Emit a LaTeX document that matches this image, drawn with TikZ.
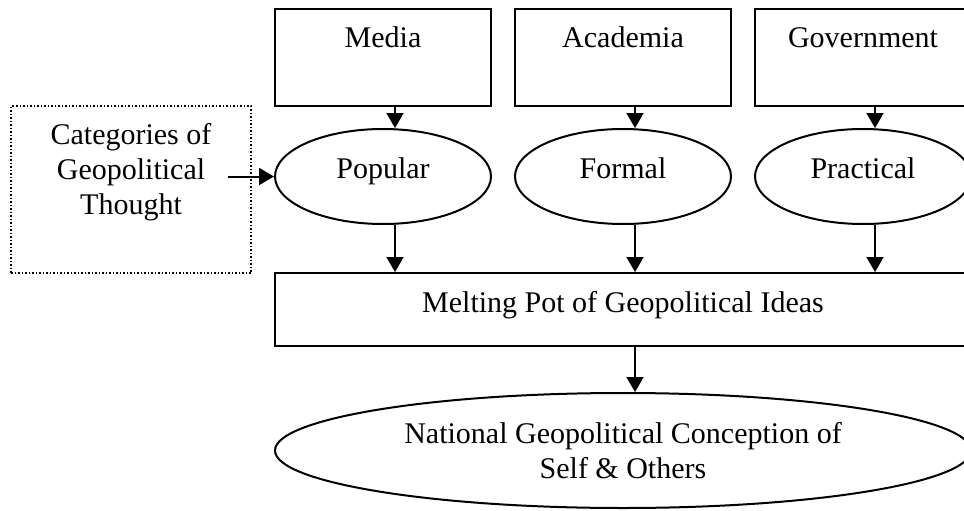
\documentclass[tikz,border=0pt]{standalone}
\usepackage{fontspec}
\setmainfont{Liberation Serif}
\usetikzlibrary{arrows.meta,shapes.geometric}
\tikzset{
  every node/.style={font=\fontsize{30}{35}\selectfont},
  sourcebox/.style={draw, line width=2pt, minimum width=216pt, inner sep=8pt, text height=31pt, text depth=50pt},
  kindball/.style={draw, ellipse, line width=2pt, minimum width=216pt, minimum height=95pt, inner sep=0pt, text height=12pt, text depth=8pt},
  arr/.style={line width=2pt, -{Triangle[length=15pt,width=17pt]}}
}
\begin{document}
\begin{tikzpicture}[x=1pt,y=-1pt]
  \useasboundingbox (0,0) rectangle (964,511);
  % sources
  \node[sourcebox] (media) at (383,57.5) {Media};
  \node[sourcebox] (acad) at (623,57.5) {Academia};
  \node[sourcebox] (gov) at (863,57.5) {Government};
  % categories
  \node[kindball] (popular) at (383,176.5) {Popular};
  \node[kindball] (formal) at (623,176.5) {Formal};
  \node[kindball] (practical) at (863,176.5) {Practical};
  \node[draw, dotted, line width=1.5pt, minimum width=240pt, minimum height=167pt] (cats) at (131,189.5) {};
  \node[align=center, anchor=north, inner sep=4pt] (catstext) at ([yshift=-14pt]cats.north) {Categories of\\Geopolitical\\Thought};
  % melting pot and result
  \node[draw, line width=2pt, minimum width=696pt, inner sep=8pt, text height=31pt, text depth=26pt] (melt) at (623,309.5) {Melting Pot of Geopolitical Ideas};
  \node[draw, ellipse, line width=2pt, minimum width=696pt, minimum height=115pt, inner sep=0pt, align=center] (nat) at (623,450.5) {National Geopolitical Conception of\\Self \& Others};
  % arrows
  \draw[arr] ([xshift=12pt]media.south) -- ([xshift=12pt]popular.north);
  \draw[arr] ([xshift=12pt]acad.south) -- ([xshift=12pt]formal.north);
  \draw[arr] ([xshift=12pt]gov.south) -- ([xshift=12pt]practical.north);
  \draw[arr] ([xshift=12pt]catstext.east |- popular.west) -- (popular.west);
  \draw[arr] ([xshift=12pt]popular.south) -- ([xshift=12pt]popular.south |- melt.north);
  \draw[arr] ([xshift=12pt]formal.south) -- ([xshift=12pt]formal.south |- melt.north);
  \draw[arr] ([xshift=12pt]practical.south) -- ([xshift=12pt]practical.south |- melt.north);
  \draw[arr] ([xshift=12pt]melt.south) -- ([xshift=12pt]nat.north);
\end{tikzpicture}
\end{document}
